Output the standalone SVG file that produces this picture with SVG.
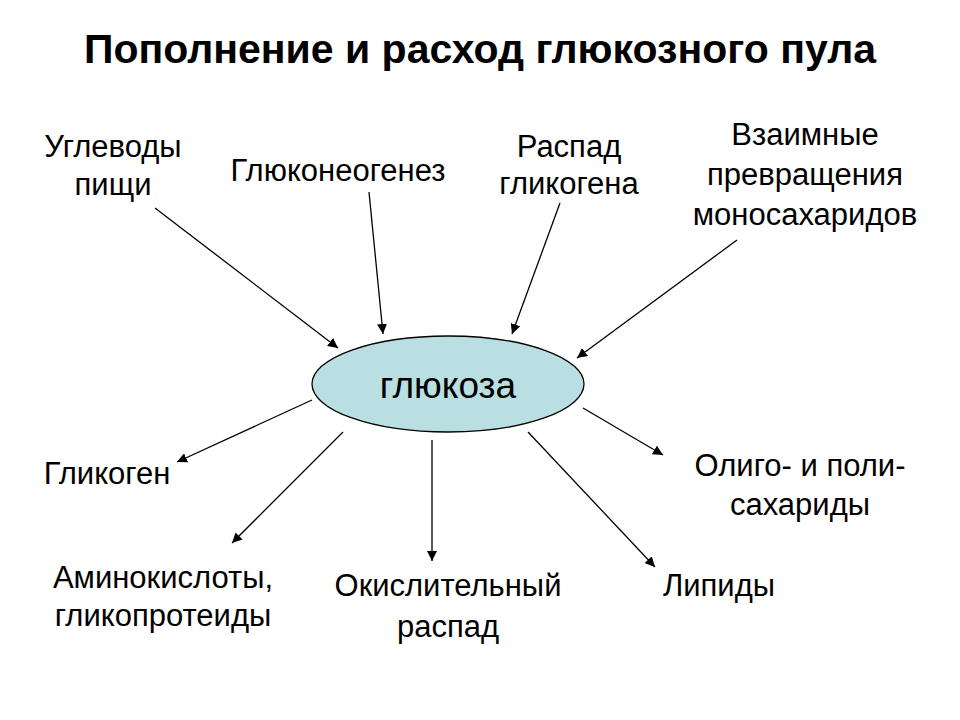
<svg xmlns="http://www.w3.org/2000/svg" width="960" height="720" viewBox="0 0 960 720">
<style>
.t{font-family:"Liberation Sans",Arial,sans-serif;font-size:31px;fill:#000;text-anchor:middle}
.ttl{font-family:"Liberation Sans",Arial,sans-serif;font-size:41px;font-weight:bold;fill:#000;text-anchor:middle}
.c line{stroke:#000;stroke-width:1.3;marker-end:url(#ah)}
</style>
<defs>
<marker id="ah" viewBox="0 0 10 10" refX="10" refY="5" markerWidth="10" markerHeight="10" markerUnits="userSpaceOnUse" orient="auto">
<path d="M0,0 L10,5 L0,10 z" fill="#000"/>
</marker>
</defs>
<rect width="960" height="720" fill="#fff"/>
<text class="ttl" x="480" y="63">Пополнение и расход глюкозного пула</text>
<g id="glucose">
<ellipse cx="448" cy="384" rx="136" ry="48" fill="#b9dfe2" stroke="#000" stroke-width="1.3"/>
<text class="t" x="448" y="398" style="font-size:37px">глюкоза</text>
</g>
<g id="n-food"><text class="t" x="113" y="157">Углеводы</text><text class="t" x="113" y="195">пищи</text></g>
<g id="n-gng"><text class="t" x="338" y="181">Глюконеогенез</text></g>
<g id="n-glycogenolysis"><text class="t" x="569" y="157">Распад</text><text class="t" x="569" y="194">гликогена</text></g>
<g id="n-mono"><text class="t" x="805" y="145">Взаимные</text><text class="t" x="805" y="185">превращения</text><text class="t" x="805" y="225">моносахаридов</text></g>
<g id="n-glycogen"><text class="t" x="107" y="484">Гликоген</text></g>
<g id="n-oligo"><text class="t" x="800" y="476">Олиго- и поли-</text><text class="t" x="800" y="515">сахариды</text></g>
<g id="n-amino"><text class="t" x="163" y="588">Аминокислоты,</text><text class="t" x="163" y="626">гликопротеиды</text></g>
<g id="n-ox"><text class="t" x="448" y="596">Окислительный</text><text class="t" x="448" y="637">распад</text></g>
<g id="n-lipids"><text class="t" x="719" y="596">Липиды</text></g>
<g class="c" id="connectors">
<line x1="155" y1="208" x2="338" y2="348"/>
<line x1="369" y1="192" x2="383" y2="334"/>
<line x1="560" y1="203" x2="512" y2="334"/>
<line x1="737" y1="240" x2="577" y2="358"/>
<line x1="312" y1="400" x2="177" y2="462"/>
<line x1="343" y1="432" x2="232" y2="543"/>
<line x1="432" y1="440" x2="432" y2="561"/>
<line x1="528" y1="432" x2="655" y2="567"/>
<line x1="583" y1="408" x2="663" y2="455"/>
</g>
</svg>
